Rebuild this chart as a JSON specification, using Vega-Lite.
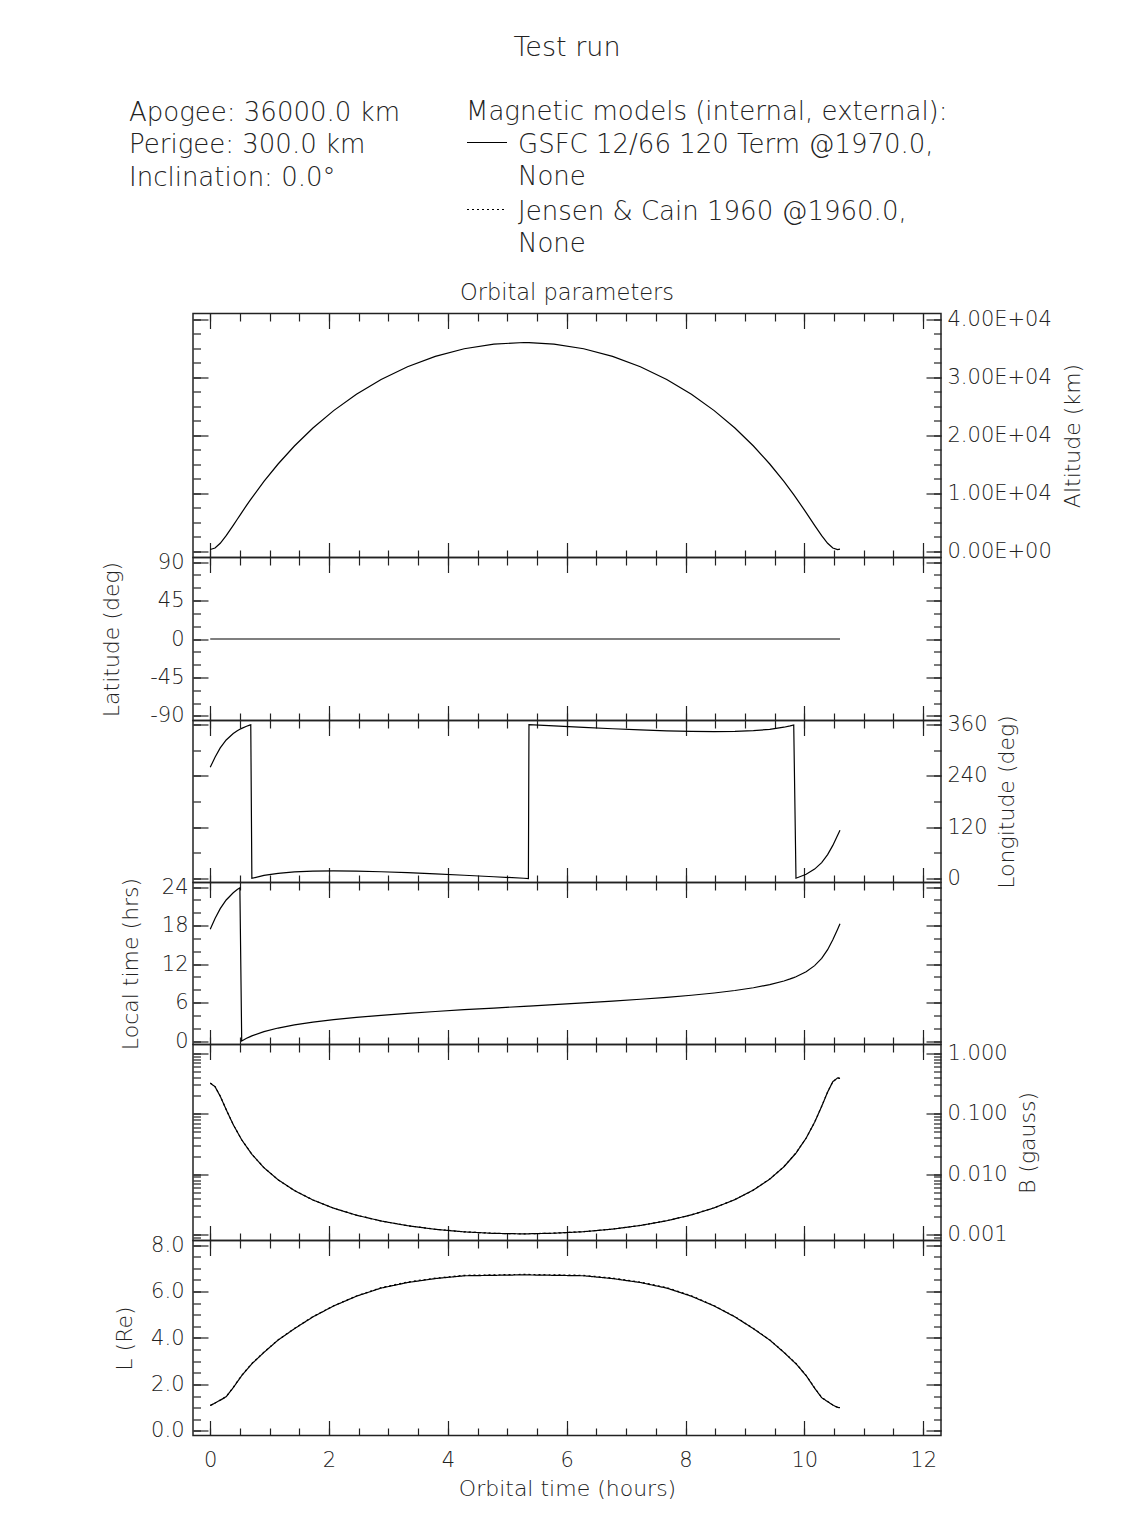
{
  "$schema": "https://vega.github.io/schema/vega-lite/v6.json",
  "background": "white",
  "padding": {"left": 99, "top": 33.5, "right": 5, "bottom": 5},
  "title": {"text": "Test run", "anchor": "middle", "frame": "group", "fontSize": 27, "offset": 37},
  "spacing": 0,
  "bounds": "flush",
  "datasets": {
    "orbit": [
      {"t": 0, "alt": 301, "lat": 0, "lon": 260.0, "lt": 17.44},
      {"t": 0.0809, "alt": 572, "lat": 0, "lon": 283.6, "lt": 19.10},
      {"t": 0.1683, "alt": 1377, "lat": 0, "lon": 305.4, "lt": 20.63},
      {"t": 0.2685, "alt": 2692, "lat": 0, "lon": 324.0, "lt": 21.98},
      {"t": 0.3872, "alt": 4477, "lat": 0, "lon": 339.2, "lt": 23.11},
      {"t": 0.4552, "alt": 5529, "lat": 0, "lon": 345.6, "lt": 23.60},
      {"t": 0.4991, "alt": 6207, "lat": 0, "lon": 349.1, "lt": 23.88},
      {"t": 0.5298, "alt": 6677, "lat": 0, "lon": 351.2, "lt": 0.05},
      {"t": 0.6115, "alt": 7912, "lat": 0, "lon": 356.1, "lt": 0.46},
      {"t": 0.6641, "alt": 8691, "lat": 0, "lon": 358.8, "lt": 0.69},
      {"t": 0.6823, "alt": 8957, "lat": 0, "lon": 359.6, "lt": 0.77},
      {"t": 0.7008, "alt": 9225, "lat": 0, "lon": 0.4, "lt": 0.84},
      {"t": 0.9041, "alt": 12045, "lat": 0, "lon": 7.3, "lt": 1.50},
      {"t": 1.1422, "alt": 15051, "lat": 0, "lon": 12.2, "lt": 2.06},
      {"t": 1.417, "alt": 18150, "lat": 0, "lon": 15.4, "lt": 2.55},
      {"t": 1.7289, "alt": 21249, "lat": 0, "lon": 17.1, "lt": 2.98},
      {"t": 2.0774, "alt": 24255, "lat": 0, "lon": 17.7, "lt": 3.37},
      {"t": 2.4608, "alt": 27075, "lat": 0, "lon": 17.2, "lt": 3.72},
      {"t": 2.8764, "alt": 29623, "lat": 0, "lon": 15.8, "lt": 4.04},
      {"t": 3.3204, "alt": 31823, "lat": 0, "lon": 13.6, "lt": 4.34},
      {"t": 3.7885, "alt": 33608, "lat": 0, "lon": 10.9, "lt": 4.63},
      {"t": 4.275, "alt": 34923, "lat": 0, "lon": 7.7, "lt": 4.91},
      {"t": 4.7743, "alt": 35728, "lat": 0, "lon": 4.2, "lt": 5.17},
      {"t": 5.28, "alt": 35999, "lat": 0, "lon": 0.6, "lt": 5.44},
      {"t": 5.355, "alt": 35990, "lat": 0, "lon": 0.05, "lt": 5.48},
      {"t": 5.365, "alt": 35988, "lat": 0, "lon": 359.95, "lt": 5.48},
      {"t": 5.7857, "alt": 35728, "lat": 0, "lon": 357.0, "lt": 5.71},
      {"t": 6.285, "alt": 34923, "lat": 0, "lon": 353.5, "lt": 5.97},
      {"t": 6.7715, "alt": 33608, "lat": 0, "lon": 350.3, "lt": 6.25},
      {"t": 7.2396, "alt": 31823, "lat": 0, "lon": 347.6, "lt": 6.54},
      {"t": 7.6836, "alt": 29623, "lat": 0, "lon": 345.4, "lt": 6.84},
      {"t": 8.0992, "alt": 27075, "lat": 0, "lon": 344.0, "lt": 7.16},
      {"t": 8.4826, "alt": 24255, "lat": 0, "lon": 343.5, "lt": 7.51},
      {"t": 8.8311, "alt": 21249, "lat": 0, "lon": 344.0, "lt": 7.90},
      {"t": 9.143, "alt": 18150, "lat": 0, "lon": 345.8, "lt": 8.33},
      {"t": 9.4178, "alt": 15051, "lat": 0, "lon": 349.0, "lt": 8.82},
      {"t": 9.6559, "alt": 12045, "lat": 0, "lon": 353.9, "lt": 9.38},
      {"t": 9.7618, "alt": 10607, "lat": 0, "lon": 357.0, "lt": 9.70},
      {"t": 9.8212, "alt": 9770, "lat": 0, "lon": 359.2, "lt": 9.90},
      {"t": 9.8592, "alt": 9225, "lat": 0, "lon": 0.7, "lt": 10.04},
      {"t": 10.0302, "alt": 6677, "lat": 0, "lon": 10.0, "lt": 10.83},
      {"t": 10.1728, "alt": 4477, "lat": 0, "lon": 22.0, "lt": 11.77},
      {"t": 10.2915, "alt": 2692, "lat": 0, "lon": 37.2, "lt": 12.90},
      {"t": 10.3917, "alt": 1377, "lat": 0, "lon": 55.8, "lt": 14.25},
      {"t": 10.4791, "alt": 572, "lat": 0, "lon": 77.5, "lt": 15.78},
      {"t": 10.56, "alt": 301, "lat": 0, "lon": 101.2, "lt": 17.44},
      {"t": 10.6, "alt": 368, "lat": 0, "lon": 113.1, "lt": 18.27}
    ],
    "field": [
      {"t": 0, "model": "GSFC 12/66 120 Term @1970.0, None", "B": 0.3208, "L": 1.09},
      {"t": 0.0809, "model": "GSFC 12/66 120 Term @1970.0, None", "B": 0.2807, "L": 1.20},
      {"t": 0.1683, "model": "GSFC 12/66 120 Term @1970.0, None", "B": 0.1951, "L": 1.32},
      {"t": 0.2685, "model": "GSFC 12/66 120 Term @1970.0, None", "B": 0.1172, "L": 1.47},
      {"t": 0.3872, "model": "GSFC 12/66 120 Term @1970.0, None", "B": 0.0661, "L": 1.86},
      {"t": 0.5298, "model": "GSFC 12/66 120 Term @1970.0, None", "B": 0.03707, "L": 2.38},
      {"t": 0.7008, "model": "GSFC 12/66 120 Term @1970.0, None", "B": 0.02135, "L": 2.89},
      {"t": 0.9041, "model": "GSFC 12/66 120 Term @1970.0, None", "B": 0.01282, "L": 3.38},
      {"t": 1.1422, "model": "GSFC 12/66 120 Term @1970.0, None", "B": 0.008084, "L": 3.91},
      {"t": 1.417, "model": "GSFC 12/66 120 Term @1970.0, None", "B": 0.005363, "L": 4.40},
      {"t": 1.7289, "model": "GSFC 12/66 120 Term @1970.0, None", "B": 0.003741, "L": 4.91},
      {"t": 2.0774, "model": "GSFC 12/66 120 Term @1970.0, None", "B": 0.002737, "L": 5.38},
      {"t": 2.4608, "model": "GSFC 12/66 120 Term @1970.0, None", "B": 0.002098, "L": 5.80},
      {"t": 2.8764, "model": "GSFC 12/66 120 Term @1970.0, None", "B": 0.001681, "L": 6.15},
      {"t": 3.3204, "model": "GSFC 12/66 120 Term @1970.0, None", "B": 0.001406, "L": 6.39},
      {"t": 3.7885, "model": "GSFC 12/66 120 Term @1970.0, None", "B": 0.001225, "L": 6.56},
      {"t": 4.275, "model": "GSFC 12/66 120 Term @1970.0, None", "B": 0.001111, "L": 6.68},
      {"t": 4.7743, "model": "GSFC 12/66 120 Term @1970.0, None", "B": 0.001049, "L": 6.70},
      {"t": 5.28, "model": "GSFC 12/66 120 Term @1970.0, None", "B": 0.001029, "L": 6.72},
      {"t": 5.7857, "model": "GSFC 12/66 120 Term @1970.0, None", "B": 0.001056, "L": 6.70},
      {"t": 6.285, "model": "GSFC 12/66 120 Term @1970.0, None", "B": 0.001119, "L": 6.68},
      {"t": 6.7715, "model": "GSFC 12/66 120 Term @1970.0, None", "B": 0.001234, "L": 6.56},
      {"t": 7.2396, "model": "GSFC 12/66 120 Term @1970.0, None", "B": 0.001418, "L": 6.39},
      {"t": 7.6836, "model": "GSFC 12/66 120 Term @1970.0, None", "B": 0.001697, "L": 6.15},
      {"t": 8.0992, "model": "GSFC 12/66 120 Term @1970.0, None", "B": 0.002121, "L": 5.80},
      {"t": 8.4826, "model": "GSFC 12/66 120 Term @1970.0, None", "B": 0.002772, "L": 5.38},
      {"t": 8.8311, "model": "GSFC 12/66 120 Term @1970.0, None", "B": 0.0038, "L": 4.91},
      {"t": 9.143, "model": "GSFC 12/66 120 Term @1970.0, None", "B": 0.00547, "L": 4.40},
      {"t": 9.4178, "model": "GSFC 12/66 120 Term @1970.0, None", "B": 0.008295, "L": 3.91},
      {"t": 9.6559, "model": "GSFC 12/66 120 Term @1970.0, None", "B": 0.01327, "L": 3.38},
      {"t": 9.8592, "model": "GSFC 12/66 120 Term @1970.0, None", "B": 0.02237, "L": 2.89},
      {"t": 10.0302, "model": "GSFC 12/66 120 Term @1970.0, None", "B": 0.03957, "L": 2.38},
      {"t": 10.1728, "model": "GSFC 12/66 120 Term @1970.0, None", "B": 0.07241, "L": 1.84},
      {"t": 10.2915, "model": "GSFC 12/66 120 Term @1970.0, None", "B": 0.1327, "L": 1.43},
      {"t": 10.3917, "model": "GSFC 12/66 120 Term @1970.0, None", "B": 0.229, "L": 1.26},
      {"t": 10.4791, "model": "GSFC 12/66 120 Term @1970.0, None", "B": 0.3393, "L": 1.11},
      {"t": 10.56, "model": "GSFC 12/66 120 Term @1970.0, None", "B": 0.3923, "L": 1.01},
      {"t": 10.6, "model": "GSFC 12/66 120 Term @1970.0, None", "B": 0.383, "L": 1.00},
      {"t": 0, "model": "Jensen & Cain 1960 @1960.0, None", "B": 0.3221, "L": 1.09},
      {"t": 0.0809, "model": "Jensen & Cain 1960 @1960.0, None", "B": 0.2818, "L": 1.20},
      {"t": 0.1683, "model": "Jensen & Cain 1960 @1960.0, None", "B": 0.1958, "L": 1.33},
      {"t": 0.2685, "model": "Jensen & Cain 1960 @1960.0, None", "B": 0.1176, "L": 1.48},
      {"t": 0.3872, "model": "Jensen & Cain 1960 @1960.0, None", "B": 0.0663, "L": 1.87},
      {"t": 0.5298, "model": "Jensen & Cain 1960 @1960.0, None", "B": 0.03718, "L": 2.39},
      {"t": 0.7008, "model": "Jensen & Cain 1960 @1960.0, None", "B": 0.02141, "L": 2.90},
      {"t": 0.9041, "model": "Jensen & Cain 1960 @1960.0, None", "B": 0.01285, "L": 3.39},
      {"t": 1.1422, "model": "Jensen & Cain 1960 @1960.0, None", "B": 0.008101, "L": 3.92},
      {"t": 1.417, "model": "Jensen & Cain 1960 @1960.0, None", "B": 0.005374, "L": 4.41},
      {"t": 1.7289, "model": "Jensen & Cain 1960 @1960.0, None", "B": 0.003748, "L": 4.92},
      {"t": 2.0774, "model": "Jensen & Cain 1960 @1960.0, None", "B": 0.002742, "L": 5.39},
      {"t": 2.4608, "model": "Jensen & Cain 1960 @1960.0, None", "B": 0.002101, "L": 5.81},
      {"t": 2.8764, "model": "Jensen & Cain 1960 @1960.0, None", "B": 0.001684, "L": 6.17},
      {"t": 3.3204, "model": "Jensen & Cain 1960 @1960.0, None", "B": 0.001408, "L": 6.41},
      {"t": 3.7885, "model": "Jensen & Cain 1960 @1960.0, None", "B": 0.001227, "L": 6.58},
      {"t": 4.275, "model": "Jensen & Cain 1960 @1960.0, None", "B": 0.001113, "L": 6.70},
      {"t": 4.7743, "model": "Jensen & Cain 1960 @1960.0, None", "B": 0.001051, "L": 6.72},
      {"t": 5.28, "model": "Jensen & Cain 1960 @1960.0, None", "B": 0.001031, "L": 6.74},
      {"t": 5.7857, "model": "Jensen & Cain 1960 @1960.0, None", "B": 0.001058, "L": 6.72},
      {"t": 6.285, "model": "Jensen & Cain 1960 @1960.0, None", "B": 0.001121, "L": 6.70},
      {"t": 6.7715, "model": "Jensen & Cain 1960 @1960.0, None", "B": 0.001236, "L": 6.58},
      {"t": 7.2396, "model": "Jensen & Cain 1960 @1960.0, None", "B": 0.00142, "L": 6.41},
      {"t": 7.6836, "model": "Jensen & Cain 1960 @1960.0, None", "B": 0.0017, "L": 6.17},
      {"t": 8.0992, "model": "Jensen & Cain 1960 @1960.0, None", "B": 0.002125, "L": 5.82},
      {"t": 8.4826, "model": "Jensen & Cain 1960 @1960.0, None", "B": 0.002777, "L": 5.39},
      {"t": 8.8311, "model": "Jensen & Cain 1960 @1960.0, None", "B": 0.003807, "L": 4.92},
      {"t": 9.143, "model": "Jensen & Cain 1960 @1960.0, None", "B": 0.00548, "L": 4.41},
      {"t": 9.4178, "model": "Jensen & Cain 1960 @1960.0, None", "B": 0.008311, "L": 3.92},
      {"t": 9.6559, "model": "Jensen & Cain 1960 @1960.0, None", "B": 0.0133, "L": 3.39},
      {"t": 9.8592, "model": "Jensen & Cain 1960 @1960.0, None", "B": 0.02243, "L": 2.90},
      {"t": 10.0302, "model": "Jensen & Cain 1960 @1960.0, None", "B": 0.03968, "L": 2.39},
      {"t": 10.1728, "model": "Jensen & Cain 1960 @1960.0, None", "B": 0.07263, "L": 1.85},
      {"t": 10.2915, "model": "Jensen & Cain 1960 @1960.0, None", "B": 0.1331, "L": 1.44},
      {"t": 10.3917, "model": "Jensen & Cain 1960 @1960.0, None", "B": 0.2297, "L": 1.26},
      {"t": 10.4791, "model": "Jensen & Cain 1960 @1960.0, None", "B": 0.3404, "L": 1.11},
      {"t": 10.56, "model": "Jensen & Cain 1960 @1960.0, None", "B": 0.3936, "L": 1.01},
      {"t": 10.6, "model": "Jensen & Cain 1960 @1960.0, None", "B": 0.3842, "L": 1.00}
    ]
  },
  "vconcat": [
    {
      "width": 748,
      "height": 100,
      "view": {"stroke": null},
      "data": {"values": []},
      "mark": "point",
      "title": {
        "text": ["Apogee: 36000.0 km", "Perigee: 300.0 km", "Inclination: 0.0°"],
        "anchor": "start", "frame": "group", "align": "left", "dx": -64,
        "fontSize": 26, "lineHeight": 32.5, "baseline": "bottom", "offset": -3
      }
    },
    {
      "width": 748,
      "height": 244,
      "title": {"text": "Orbital parameters", "fontSize": 22.5, "anchor": "middle", "frame": "group", "offset": 3.5},
      "data": {"name": "orbit"},
      "layer": [
        {
          "mark": {"type": "line"},
          "encoding": {
            "x": {"field": "t", "type": "quantitative", "scale": {"domain": [-0.29, 12.3], "nice": false, "zero": false},
                  "axis": {"orient": "bottom", "values": [0, 2, 4, 6, 8, 10, 12], "tickSize": 15, "offset": -15, "labels": false, "title": null}},
            "y": {"field": "alt", "type": "quantitative", "scale": {"domain": [-1070, 41000], "nice": false, "zero": false},
                  "axis": {"orient": "left", "values": [0, 10000, 20000, 30000, 40000], "tickSize": 15, "offset": -15, "labels": false, "title": null}}
          }
        },
        {
          "mark": {"type": "point", "opacity": 0},
          "encoding": {
            "x": {"field": "t", "type": "quantitative", "scale": {"domain": [-0.29, 12.3], "nice": false, "zero": false},
                  "axis": {"orient": "bottom", "values": [0, 0.5, 1, 1.5, 2, 2.5, 3, 3.5, 4, 4.5, 5, 5.5, 6, 6.5, 7, 7.5, 8, 8.5, 9, 9.5, 10, 10.5, 11, 11.5, 12], "tickSize": 7.5, "offset": -7.5, "labels": false, "title": null}},
            "y": {"field": "alt", "type": "quantitative", "scale": {"domain": [-1070, 41000], "nice": false, "zero": false},
                  "axis": {"orient": "left", "values": [0, 2500, 5000, 7500, 10000, 12500, 15000, 17500, 20000, 22500, 25000, 27500, 30000, 32500, 35000, 37500, 40000], "tickSize": 7.5, "offset": -7.5, "labels": false, "title": null}}
          }
        },
        {
          "mark": {"type": "point", "opacity": 0},
          "encoding": {
            "x": {"field": "t", "type": "quantitative", "scale": {"domain": [-0.29, 12.3], "nice": false, "zero": false},
                  "axis": {"orient": "top", "values": [0, 2, 4, 6, 8, 10, 12], "tickSize": 15, "offset": -15, "labels": false, "title": null}},
            "y": {"field": "alt", "type": "quantitative", "scale": {"domain": [-1070, 41000], "nice": false, "zero": false},
                  "axis": {"orient": "right", "values": [0, 10000, 20000, 30000, 40000], "tickSize": 15, "offset": -15, "labelPadding": 6,
                           "labelExpr": "datum.value == 0 ? '0.00E+00' : format(datum.value / 10000, '.2f') + 'E+04'",
                           "title": "Altitude (km)", "titleAngle": 270, "titleBaseline": "top", "titlePadding": 11}}
          }
        },
        {
          "mark": {"type": "point", "opacity": 0},
          "encoding": {
            "x": {"field": "t", "type": "quantitative", "scale": {"domain": [-0.29, 12.3], "nice": false, "zero": false},
                  "axis": {"orient": "top", "values": [0, 0.5, 1, 1.5, 2, 2.5, 3, 3.5, 4, 4.5, 5, 5.5, 6, 6.5, 7, 7.5, 8, 8.5, 9, 9.5, 10, 10.5, 11, 11.5, 12], "tickSize": 7.5, "offset": -7.5, "labels": false, "title": null}},
            "y": {"field": "alt", "type": "quantitative", "scale": {"domain": [-1070, 41000], "nice": false, "zero": false},
                  "axis": {"orient": "right", "values": [0, 2500, 5000, 7500, 10000, 12500, 15000, 17500, 20000, 22500, 25000, 27500, 30000, 32500, 35000, 37500, 40000], "tickSize": 7.5, "offset": -7.5, "labels": false, "title": null}}
          }
        }
      ],
      "resolve": {"axis": {"x": "independent", "y": "independent"}}
    },
    {
      "width": 748,
      "height": 163,
      "data": {"name": "orbit"},
      "layer": [
        {
          "mark": {"type": "line"},
          "encoding": {
            "x": {"field": "t", "type": "quantitative", "scale": {"domain": [-0.29, 12.3], "nice": false, "zero": false},
                  "axis": {"orient": "bottom", "values": [0, 2, 4, 6, 8, 10, 12], "tickSize": 15, "offset": -15, "labels": false, "title": null}},
            "y": {"field": "lat", "type": "quantitative", "scale": {"domain": [-95.5, 95.5], "nice": false, "zero": false},
                  "axis": {"orient": "left", "values": [-90, -45, 0, 45, 90], "tickSize": 15, "offset": -15, "labelPadding": 9,
                           "labelExpr": "replace(datum.label, '−', '-')",
                           "title": "Latitude (deg)", "titlePadding": 26}}
          }
        },
        {
          "mark": {"type": "point", "opacity": 0},
          "encoding": {
            "x": {"field": "t", "type": "quantitative", "scale": {"domain": [-0.29, 12.3], "nice": false, "zero": false},
                  "axis": {"orient": "bottom", "values": [0, 0.5, 1, 1.5, 2, 2.5, 3, 3.5, 4, 4.5, 5, 5.5, 6, 6.5, 7, 7.5, 8, 8.5, 9, 9.5, 10, 10.5, 11, 11.5, 12], "tickSize": 7.5, "offset": -7.5, "labels": false, "title": null}},
            "y": {"field": "lat", "type": "quantitative", "scale": {"domain": [-95.5, 95.5], "nice": false, "zero": false},
                  "axis": {"orient": "left", "values": [-90, -75, -60, -45, -30, -15, 0, 15, 30, 45, 60, 75, 90], "tickSize": 7.5, "offset": -7.5, "labels": false, "title": null}}
          }
        },
        {
          "mark": {"type": "point", "opacity": 0},
          "encoding": {
            "x": {"field": "t", "type": "quantitative", "scale": {"domain": [-0.29, 12.3], "nice": false, "zero": false},
                  "axis": {"orient": "top", "values": [0, 2, 4, 6, 8, 10, 12], "tickSize": 15, "offset": -15, "labels": false, "title": null}},
            "y": {"field": "lat", "type": "quantitative", "scale": {"domain": [-95.5, 95.5], "nice": false, "zero": false},
                  "axis": {"orient": "right", "values": [-90, -45, 0, 45, 90], "tickSize": 15, "offset": -15, "labels": false, "title": null}}
          }
        },
        {
          "mark": {"type": "point", "opacity": 0},
          "encoding": {
            "x": {"field": "t", "type": "quantitative", "scale": {"domain": [-0.29, 12.3], "nice": false, "zero": false},
                  "axis": {"orient": "top", "values": [0, 0.5, 1, 1.5, 2, 2.5, 3, 3.5, 4, 4.5, 5, 5.5, 6, 6.5, 7, 7.5, 8, 8.5, 9, 9.5, 10, 10.5, 11, 11.5, 12], "tickSize": 7.5, "offset": -7.5, "labels": false, "title": null}},
            "y": {"field": "lat", "type": "quantitative", "scale": {"domain": [-95.5, 95.5], "nice": false, "zero": false},
                  "axis": {"orient": "right", "values": [-90, -75, -60, -45, -30, -15, 0, 15, 30, 45, 60, 75, 90], "tickSize": 7.5, "offset": -7.5, "labels": false, "title": null}}
          }
        }
      ],
      "resolve": {"axis": {"x": "independent", "y": "independent"}}
    },
    {
      "width": 748,
      "height": 162,
      "data": {"name": "orbit"},
      "layer": [
        {
          "mark": {"type": "line"},
          "encoding": {
            "x": {"field": "t", "type": "quantitative", "scale": {"domain": [-0.29, 12.3], "nice": false, "zero": false},
                  "axis": {"orient": "bottom", "values": [0, 2, 4, 6, 8, 10, 12], "tickSize": 15, "offset": -15, "labels": false, "title": null}},
            "y": {"field": "lon", "type": "quantitative", "scale": {"domain": [-9.3, 369.6], "nice": false, "zero": false},
                  "axis": {"orient": "left", "values": [0, 120, 240, 360], "tickSize": 15, "offset": -15, "labels": false, "title": null}}
          }
        },
        {
          "mark": {"type": "point", "opacity": 0},
          "encoding": {
            "x": {"field": "t", "type": "quantitative", "scale": {"domain": [-0.29, 12.3], "nice": false, "zero": false},
                  "axis": {"orient": "bottom", "values": [0, 0.5, 1, 1.5, 2, 2.5, 3, 3.5, 4, 4.5, 5, 5.5, 6, 6.5, 7, 7.5, 8, 8.5, 9, 9.5, 10, 10.5, 11, 11.5, 12], "tickSize": 7.5, "offset": -7.5, "labels": false, "title": null}},
            "y": {"field": "lon", "type": "quantitative", "scale": {"domain": [-9.3, 369.6], "nice": false, "zero": false},
                  "axis": {"orient": "left", "values": [0, 60, 120, 180, 240, 300, 360], "tickSize": 7.5, "offset": -7.5, "labels": false, "title": null}}
          }
        },
        {
          "mark": {"type": "point", "opacity": 0},
          "encoding": {
            "x": {"field": "t", "type": "quantitative", "scale": {"domain": [-0.29, 12.3], "nice": false, "zero": false},
                  "axis": {"orient": "top", "values": [0, 2, 4, 6, 8, 10, 12], "tickSize": 15, "offset": -15, "labels": false, "title": null}},
            "y": {"field": "lon", "type": "quantitative", "scale": {"domain": [-9.3, 369.6], "nice": false, "zero": false},
                  "axis": {"orient": "right", "values": [0, 120, 240, 360], "tickSize": 15, "offset": -15, "labelPadding": 6,
                           "title": "Longitude (deg)", "titleAngle": 270, "titleBaseline": "top", "titlePadding": 9}}
          }
        },
        {
          "mark": {"type": "point", "opacity": 0},
          "encoding": {
            "x": {"field": "t", "type": "quantitative", "scale": {"domain": [-0.29, 12.3], "nice": false, "zero": false},
                  "axis": {"orient": "top", "values": [0, 0.5, 1, 1.5, 2, 2.5, 3, 3.5, 4, 4.5, 5, 5.5, 6, 6.5, 7, 7.5, 8, 8.5, 9, 9.5, 10, 10.5, 11, 11.5, 12], "tickSize": 7.5, "offset": -7.5, "labels": false, "title": null}},
            "y": {"field": "lon", "type": "quantitative", "scale": {"domain": [-9.3, 369.6], "nice": false, "zero": false},
                  "axis": {"orient": "right", "values": [0, 60, 120, 180, 240, 300, 360], "tickSize": 7.5, "offset": -7.5, "labels": false, "title": null}}
          }
        }
      ],
      "resolve": {"axis": {"x": "independent", "y": "independent"}}
    },
    {
      "width": 748,
      "height": 162,
      "data": {"name": "orbit"},
      "layer": [
        {
          "mark": {"type": "line"},
          "encoding": {
            "x": {"field": "t", "type": "quantitative", "scale": {"domain": [-0.29, 12.3], "nice": false, "zero": false},
                  "axis": {"orient": "bottom", "values": [0, 2, 4, 6, 8, 10, 12], "tickSize": 15, "offset": -15, "labels": false, "title": null}},
            "y": {"field": "lt", "type": "quantitative", "scale": {"domain": [-0.5, 24.7], "nice": false, "zero": false},
                  "axis": {"orient": "left", "values": [0, 6, 12, 18, 24], "tickSize": 15, "offset": -15, "labelPadding": 5,
                           "title": "Local time (hrs)", "titlePadding": 18.5}}
          }
        },
        {
          "mark": {"type": "point", "opacity": 0},
          "encoding": {
            "x": {"field": "t", "type": "quantitative", "scale": {"domain": [-0.29, 12.3], "nice": false, "zero": false},
                  "axis": {"orient": "bottom", "values": [0, 0.5, 1, 1.5, 2, 2.5, 3, 3.5, 4, 4.5, 5, 5.5, 6, 6.5, 7, 7.5, 8, 8.5, 9, 9.5, 10, 10.5, 11, 11.5, 12], "tickSize": 7.5, "offset": -7.5, "labels": false, "title": null}},
            "y": {"field": "lt", "type": "quantitative", "scale": {"domain": [-0.5, 24.7], "nice": false, "zero": false},
                  "axis": {"orient": "left", "values": [0, 2, 4, 6, 8, 10, 12, 14, 16, 18, 20, 22, 24], "tickSize": 7.5, "offset": -7.5, "labels": false, "title": null}}
          }
        },
        {
          "mark": {"type": "point", "opacity": 0},
          "encoding": {
            "x": {"field": "t", "type": "quantitative", "scale": {"domain": [-0.29, 12.3], "nice": false, "zero": false},
                  "axis": {"orient": "top", "values": [0, 2, 4, 6, 8, 10, 12], "tickSize": 15, "offset": -15, "labels": false, "title": null}},
            "y": {"field": "lt", "type": "quantitative", "scale": {"domain": [-0.5, 24.7], "nice": false, "zero": false},
                  "axis": {"orient": "right", "values": [0, 6, 12, 18, 24], "tickSize": 15, "offset": -15, "labels": false, "title": null}}
          }
        },
        {
          "mark": {"type": "point", "opacity": 0},
          "encoding": {
            "x": {"field": "t", "type": "quantitative", "scale": {"domain": [-0.29, 12.3], "nice": false, "zero": false},
                  "axis": {"orient": "top", "values": [0, 0.5, 1, 1.5, 2, 2.5, 3, 3.5, 4, 4.5, 5, 5.5, 6, 6.5, 7, 7.5, 8, 8.5, 9, 9.5, 10, 10.5, 11, 11.5, 12], "tickSize": 7.5, "offset": -7.5, "labels": false, "title": null}},
            "y": {"field": "lt", "type": "quantitative", "scale": {"domain": [-0.5, 24.7], "nice": false, "zero": false},
                  "axis": {"orient": "right", "values": [0, 2, 4, 6, 8, 10, 12, 14, 16, 18, 20, 22, 24], "tickSize": 7.5, "offset": -7.5, "labels": false, "title": null}}
          }
        }
      ],
      "resolve": {"axis": {"x": "independent", "y": "independent"}}
    },
    {
      "width": 748,
      "height": 196,
      "data": {"name": "field"},
      "layer": [
        {
          "mark": {"type": "line"},
          "encoding": {
            "x": {"field": "t", "type": "quantitative", "scale": {"domain": [-0.29, 12.3], "nice": false, "zero": false},
                  "axis": {"orient": "bottom", "values": [0, 2, 4, 6, 8, 10, 12], "tickSize": 15, "offset": -15, "labels": false, "title": null}},
            "y": {"field": "B", "type": "quantitative", "scale": {"type": "log", "domain": [0.0008, 1.4], "nice": false},
                  "axis": {"orient": "left", "values": [0.001, 0.01, 0.1, 1], "tickSize": 15, "offset": -15, "labels": false, "title": null}},
            "strokeDash": {
              "field": "model", "type": "nominal",
              "scale": {"domain": ["GSFC 12/66 120 Term @1970.0, None", "Jensen & Cain 1960 @1960.0, None"], "range": [[1, 0], [2, 3]]},
              "legend": {
                "title": "Magnetic models (internal, external):",
                "orient": "none", "legendX": 273, "legendY": -114.5,
                "symbolType": "M-1,-0.1L1,-0.1", "symbolSize": 1600, "symbolStrokeWidth": 1.3, "symbolStrokeColor": "black",
                "labelExpr": "[split(datum.label, ', ')[0] + ',', split(datum.label, ', ')[1]]",
                "labelBaseline": "middle", "labelFontSize": 26, "titleFontSize": 26,
                "labelOffset": 10, "labelLimit": 1000, "titleLimit": 1000,
                "titlePadding": -1.5, "rowPadding": -1, "padding": 0
              }
            }
          }
        },
        {
          "mark": {"type": "point", "opacity": 0},
          "encoding": {
            "x": {"field": "t", "type": "quantitative", "scale": {"domain": [-0.29, 12.3], "nice": false, "zero": false},
                  "axis": {"orient": "bottom", "values": [0, 0.5, 1, 1.5, 2, 2.5, 3, 3.5, 4, 4.5, 5, 5.5, 6, 6.5, 7, 7.5, 8, 8.5, 9, 9.5, 10, 10.5, 11, 11.5, 12], "tickSize": 7.5, "offset": -7.5, "labels": false, "title": null}},
            "y": {"field": "B", "type": "quantitative", "scale": {"type": "log", "domain": [0.0008, 1.4], "nice": false},
                  "axis": {"orient": "left", "values": [0.0009, 0.001, 0.002, 0.003, 0.004, 0.005, 0.006, 0.007, 0.008, 0.009, 0.01, 0.02, 0.03, 0.04, 0.05, 0.06, 0.07, 0.08, 0.09, 0.1, 0.2, 0.3, 0.4, 0.5, 0.6, 0.7, 0.8, 0.9, 1], "tickSize": 7.5, "offset": -7.5, "labels": false, "title": null}}
          }
        },
        {
          "mark": {"type": "point", "opacity": 0},
          "encoding": {
            "x": {"field": "t", "type": "quantitative", "scale": {"domain": [-0.29, 12.3], "nice": false, "zero": false},
                  "axis": {"orient": "top", "values": [0, 2, 4, 6, 8, 10, 12], "tickSize": 15, "offset": -15, "labels": false, "title": null}},
            "y": {"field": "B", "type": "quantitative", "scale": {"type": "log", "domain": [0.0008, 1.4], "nice": false},
                  "axis": {"orient": "right", "values": [0.001, 0.01, 0.1, 1], "tickSize": 15, "offset": -15, "labelPadding": 6, "format": ".3f",
                           "title": "B (gauss)", "titleAngle": 270, "titleBaseline": "top", "titlePadding": 10}}
          }
        },
        {
          "mark": {"type": "point", "opacity": 0},
          "encoding": {
            "x": {"field": "t", "type": "quantitative", "scale": {"domain": [-0.29, 12.3], "nice": false, "zero": false},
                  "axis": {"orient": "top", "values": [0, 0.5, 1, 1.5, 2, 2.5, 3, 3.5, 4, 4.5, 5, 5.5, 6, 6.5, 7, 7.5, 8, 8.5, 9, 9.5, 10, 10.5, 11, 11.5, 12], "tickSize": 7.5, "offset": -7.5, "labels": false, "title": null}},
            "y": {"field": "B", "type": "quantitative", "scale": {"type": "log", "domain": [0.0008, 1.4], "nice": false},
                  "axis": {"orient": "right", "values": [0.0009, 0.001, 0.002, 0.003, 0.004, 0.005, 0.006, 0.007, 0.008, 0.009, 0.01, 0.02, 0.03, 0.04, 0.05, 0.06, 0.07, 0.08, 0.09, 0.1, 0.2, 0.3, 0.4, 0.5, 0.6, 0.7, 0.8, 0.9, 1], "tickSize": 7.5, "offset": -7.5, "labels": false, "title": null}}
          }
        }
      ],
      "resolve": {"axis": {"x": "independent", "y": "independent"}}
    },
    {
      "width": 748,
      "height": 195,
      "data": {"name": "field"},
      "layer": [
        {
          "mark": {"type": "line"},
          "encoding": {
            "x": {"field": "t", "type": "quantitative", "scale": {"domain": [-0.29, 12.3], "nice": false, "zero": false},
                  "axis": {"orient": "bottom", "values": [0, 2, 4, 6, 8, 10, 12], "tickSize": 15, "offset": -15, "labelPadding": 14,
                           "title": "Orbital time (hours)", "titlePadding": 7.5}},
            "y": {"field": "L", "type": "quantitative", "scale": {"domain": [-0.2, 8.2], "nice": false, "zero": false},
                  "axis": {"orient": "left", "values": [0, 2, 4, 6, 8], "tickSize": 15, "offset": -15, "labelPadding": 9, "format": ".1f",
                           "title": "L (Re)", "titlePadding": 14}},
            "strokeDash": {
              "field": "model", "type": "nominal",
              "scale": {"domain": ["GSFC 12/66 120 Term @1970.0, None", "Jensen & Cain 1960 @1960.0, None"], "range": [[1, 0], [2, 3]]},
              "legend": {
                "title": "Magnetic models (internal, external):",
                "orient": "none", "legendX": 273, "legendY": -114.5,
                "symbolType": "M-1,-0.1L1,-0.1", "symbolSize": 1600, "symbolStrokeWidth": 1.3, "symbolStrokeColor": "black",
                "labelExpr": "[split(datum.label, ', ')[0] + ',', split(datum.label, ', ')[1]]",
                "labelBaseline": "middle", "labelFontSize": 26, "titleFontSize": 26,
                "labelOffset": 10, "labelLimit": 1000, "titleLimit": 1000,
                "titlePadding": -1.5, "rowPadding": -1, "padding": 0
              }
            }
          }
        },
        {
          "mark": {"type": "point", "opacity": 0},
          "encoding": {
            "x": {"field": "t", "type": "quantitative", "scale": {"domain": [-0.29, 12.3], "nice": false, "zero": false},
                  "axis": {"orient": "bottom", "values": [0, 0.5, 1, 1.5, 2, 2.5, 3, 3.5, 4, 4.5, 5, 5.5, 6, 6.5, 7, 7.5, 8, 8.5, 9, 9.5, 10, 10.5, 11, 11.5, 12], "tickSize": 7.5, "offset": -7.5, "labels": false, "title": null}},
            "y": {"field": "L", "type": "quantitative", "scale": {"domain": [-0.2, 8.2], "nice": false, "zero": false},
                  "axis": {"orient": "left", "values": [0, 0.5, 1, 1.5, 2, 2.5, 3, 3.5, 4, 4.5, 5, 5.5, 6, 6.5, 7, 7.5, 8], "tickSize": 7.5, "offset": -7.5, "labels": false, "title": null}}
          }
        },
        {
          "mark": {"type": "point", "opacity": 0},
          "encoding": {
            "x": {"field": "t", "type": "quantitative", "scale": {"domain": [-0.29, 12.3], "nice": false, "zero": false},
                  "axis": {"orient": "top", "values": [0, 2, 4, 6, 8, 10, 12], "tickSize": 15, "offset": -15, "labels": false, "title": null}},
            "y": {"field": "L", "type": "quantitative", "scale": {"domain": [-0.2, 8.2], "nice": false, "zero": false},
                  "axis": {"orient": "right", "values": [0, 2, 4, 6, 8], "tickSize": 15, "offset": -15, "labels": false, "title": null}}
          }
        },
        {
          "mark": {"type": "point", "opacity": 0},
          "encoding": {
            "x": {"field": "t", "type": "quantitative", "scale": {"domain": [-0.29, 12.3], "nice": false, "zero": false},
                  "axis": {"orient": "top", "values": [0, 0.5, 1, 1.5, 2, 2.5, 3, 3.5, 4, 4.5, 5, 5.5, 6, 6.5, 7, 7.5, 8, 8.5, 9, 9.5, 10, 10.5, 11, 11.5, 12], "tickSize": 7.5, "offset": -7.5, "labels": false, "title": null}},
            "y": {"field": "L", "type": "quantitative", "scale": {"domain": [-0.2, 8.2], "nice": false, "zero": false},
                  "axis": {"orient": "right", "values": [0, 0.5, 1, 1.5, 2, 2.5, 3, 3.5, 4, 4.5, 5, 5.5, 6, 6.5, 7, 7.5, 8], "tickSize": 7.5, "offset": -7.5, "labels": false, "title": null}}
          }
        }
      ],
      "resolve": {"axis": {"x": "independent", "y": "independent"}}
    }
  ],
  "config": {
    "font": "DejaVu Sans",
    "view": {"stroke": "#222", "strokeWidth": 1.5},
    "axis": {
      "grid": false, "domain": false, "labelFlush": false, "labelOverlap": false,
      "tickColor": "#222", "tickWidth": 1.2,
      "labelColor": "#222", "labelFontSize": 21, "labelFontWeight": 200,
      "titleColor": "#222", "titleFontSize": 22, "titleFontWeight": 200
    },
    "legend": {"labelColor": "#222", "titleColor": "#222", "labelFontWeight": 200, "titleFontWeight": 200},
    "title": {"color": "#222", "fontWeight": 200},
    "line": {"color": "black", "strokeWidth": 1.2},
    "style": {"guide-label": {"lineHeight": 32.5}}
  }
}
